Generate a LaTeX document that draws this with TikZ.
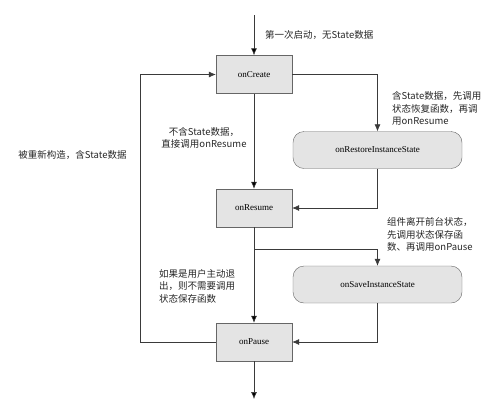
\documentclass[tikz,border=0pt]{standalone}
\usepackage{fontspec}
\setmainfont{Liberation Serif}
\newfontfamily\cjk{Noto Sans CJK SC}
\usepackage{tikz}
\usetikzlibrary{%
  arrows.meta,%
  positioning%
}
\definecolor{boxgray}{HTML}{E4E4E4}
\definecolor{linegray}{HTML}{3A3A3A}
\tikzset{
  >={Latex[length=7pt,width=6pt]},
  stage/.style={draw=gray!80!black, fill=boxgray, minimum width=76pt, minimum height=38pt, font=\fontsize{9}{11}\selectfont},
  callback/.style={stage, rounded corners=11pt, minimum width=169pt, minimum height=37pt},
  note/.style={font=\cjk\fontsize{9.5}{12.5}\selectfont, inner sep=0pt, text=black!85},
  flow/.style={draw=linegray, line width=0.6pt}
}

\begin{document}
\begin{tikzpicture}[x=1pt,y=-1pt]
	\useasboundingbox (0,0) rectangle (501,408);
	%Nodes
	\node[stage] (Create) at (254,74.5) {onCreate};
	\node[callback] (Restore) at (377.5,150) {onRestoreInstanceState};
	\node[stage] (Resume) at (254,208) {onResume};
	\node[callback] (Save) at (377.5,284.5) {onSaveInstanceState};
	\node[stage] (Pause) at (254,342) {onPause};
	\coordinate (Start) at (254,15);
	\coordinate (End) at (254,399);
	\coordinate (Back) at (140,342);
	\coordinate (Split) at (254,249);
	%Notes
	\node[note, anchor=west] (N1) at (265,35) {第一次启动，无State数据};
	\node[note, anchor=west, align=left] (N2) at (392,108.5) {含State数据，先调用\\状态恢复函数，再调\\用onResume};
	\node[note, align=center] (N3) at (204,138) {不含State数据，\\直接调用onResume};
	\node[note] (N4) at (72.5,155) {被重新构造，含State数据};
	\node[note, anchor=west, align=left] (N5) at (387,234.5) {组件离开前台状态，\\先调用状态保存函\\数、再调用onPause};
	\node[note, anchor=west, align=left] (N6) at (159,286) {如果是用户主动退\\出，则不需要调用\\状态保存函数};
	%Main line
	\draw[flow]
		(Start) edge[->] (Create)
		(Create) edge[->] (Resume)
		(Resume) edge[->] (Pause)
		(Pause) edge[->] (End)
	;
	%Side branches
	\draw[flow, ->] (Create.east) -| (Restore.north);
	\draw[flow, ->] (Restore.south) |- (Resume.east);
	\draw[flow, ->] (Split) -| (Save.north);
	\draw[flow, ->] (Save.south) |- (Pause.east);
	%Rebuild loop
	\draw[flow, ->] (Pause.west) -- (Back) |- (Create.west);
\end{tikzpicture}
\end{document}
